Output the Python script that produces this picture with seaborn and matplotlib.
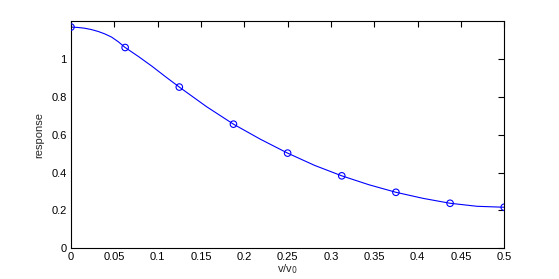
import matplotlib
matplotlib.use("Agg")
import matplotlib.pyplot as plt
import seaborn as sns
import pandas as pd

# marker samples
marker_x = [0.0, 0.0625, 0.125, 0.1875, 0.25, 0.3125, 0.375, 0.4375, 0.5]
marker_y = [1.169, 1.061, 0.852, 0.656, 0.503, 0.383, 0.296, 0.238, 0.217]

# smooth curve
line_x = [0.0, 0.0078, 0.015625, 0.0234, 0.03125, 0.039, 0.046875, 0.0547, 0.0625,
          0.078, 0.09375, 0.109, 0.125, 0.15625, 0.1875, 0.21875, 0.25, 0.28125,
          0.3125, 0.34375, 0.375, 0.40625, 0.4375, 0.46875, 0.5]
line_y = [1.169, 1.167, 1.163, 1.156, 1.146, 1.133, 1.116, 1.091, 1.061,
          1.013, 0.961, 0.907, 0.852, 0.749, 0.656, 0.576, 0.503, 0.438,
          0.383, 0.336, 0.296, 0.264, 0.238, 0.222, 0.217]

xticks = [0, 0.05, 0.1, 0.15, 0.2, 0.25, 0.3, 0.35, 0.4, 0.45, 0.5]
xticklabels = ["0", "0.05", "0.1", "0.15", "0.2", "0.25", "0.3", "0.35", "0.4", "0.45", "0.5"]
yticks = [0, 0.2, 0.4, 0.6, 0.8, 1.0]
yticklabels = ["0", "0.2", "0.4", "0.6", "0.8", "1"]

sns.set_theme(style="white")
plt.rcParams["font.family"] = ["Liberation Sans", "DejaVu Sans"]

fig = plt.figure(figsize=(5.59, 2.79), dpi=100)
ax = fig.add_axes([0.127, 0.110, 0.775, 0.814])

df_line = pd.DataFrame({"x": line_x, "y": line_y})
df_mark = pd.DataFrame({"x": marker_x, "y": marker_y})
sns.lineplot(data=df_line, x="x", y="y", ax=ax, color=(0, 0, 1), linewidth=0.8)
sns.scatterplot(data=df_mark, x="x", y="y", ax=ax, marker="o", s=22,
                facecolor="none", edgecolor=(0, 0, 1), linewidth=0.8, zorder=3)

ax.set_xlim(0, 0.5)
ax.set_ylim(0, 1.2)
ax.set_xticks(xticks)
ax.set_xticklabels(xticklabels)
ax.set_yticks(yticks)
ax.set_yticklabels(yticklabels)
ax.tick_params(direction="in", length=4, width=0.8, labelsize=8, colors="black",
               top=True, right=True, pad=3)
for s in ax.spines.values():
    s.set_visible(True)
    s.set_color("black")
    s.set_linewidth(0.8)
ax.set_xlabel("v/v$_0$", fontsize=8, labelpad=0)
ax.set_ylabel("response", fontsize=8, labelpad=5)
ax.grid(False)

fig.savefig("out.png", dpi=100, facecolor="white")
